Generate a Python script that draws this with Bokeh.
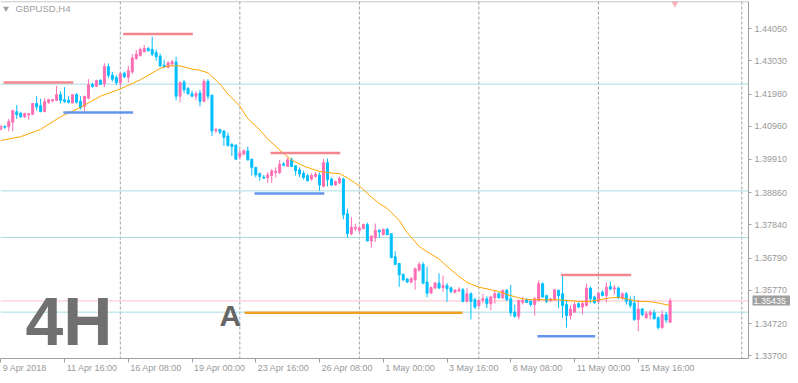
from bokeh.plotting import figure
from bokeh.models import (Range1d, FixedTicker, NumeralTickFormatter, Span, Label,
                          ColumnDataSource, LinearAxis)
from bokeh.embed import file_html
from bokeh.resources import INLINE

symbol_label = "GBPUSD,H4"

# H4 candles, bar index 0 = 9 Apr 2018 00:00
opens = [1.4086, 1.4095, 1.4094, 1.4109, 1.4142, 1.4137, 1.4126, 1.4132, 1.4134, 1.4168,
         1.4161, 1.4142, 1.4172, 1.4176, 1.4178, 1.4196, 1.4180, 1.4178, 1.4170, 1.4196,
         1.4175, 1.4159, 1.4185, 1.4229, 1.4222, 1.4241, 1.4230, 1.4285, 1.4257, 1.4250,
         1.4234, 1.4264, 1.4251, 1.4268, 1.4310, 1.4320, 1.4332, 1.4342, 1.4339, 1.4329,
         1.4318, 1.4289, 1.4283, 1.4293, 1.4299, 1.4191, 1.4236, 1.4216, 1.4199, 1.4191,
         1.4201, 1.4175, 1.4238, 1.4194, 1.4082, 1.4086, 1.4081, 1.4065, 1.4039, 1.4036,
         1.4000, 1.4008, 1.4018, 1.3992, 1.3966, 1.3946, 1.3935, 1.3933, 1.3940, 1.3950,
         1.3950, 1.3977, 1.3969, 1.3990, 1.3971, 1.3958, 1.3947, 1.3940, 1.3929, 1.3937,
         1.3942, 1.3906, 1.3981, 1.3929, 1.3910, 1.3917, 1.3929, 1.3819, 1.3756, 1.3772,
         1.3767, 1.3772, 1.3785, 1.3733, 1.3743, 1.3767, 1.3753, 1.3770, 1.3756, 1.3683,
         1.3662, 1.3627, 1.3613, 1.3603, 1.3610, 1.3641, 1.3659, 1.3603, 1.3568, 1.3584,
         1.3600, 1.3586, 1.3592, 1.3585, 1.3570, 1.3575, 1.3579, 1.3542, 1.3566, 1.3547,
         1.3529, 1.3546, 1.3550, 1.3535, 1.3553, 1.3566, 1.3553, 1.3577, 1.3550, 1.3508,
         1.3495, 1.3539, 1.3547, 1.3542, 1.3532, 1.3545, 1.3598, 1.3560, 1.3545, 1.3547,
         1.3577, 1.3566, 1.3532, 1.3497, 1.3508, 1.3535, 1.3524, 1.3529, 1.3584, 1.3556,
         1.3542, 1.3571, 1.3560, 1.3589, 1.3581, 1.3584, 1.3553, 1.3566, 1.3545, 1.3537,
         1.3485, 1.3518, 1.3490, 1.3500, 1.3506, 1.3490, 1.3459, 1.3500, 1.3476]
highs = [1.4100, 1.4099, 1.4119, 1.4146, 1.4163, 1.4142, 1.4139, 1.4138, 1.4168, 1.4191,
         1.4183, 1.4185, 1.4183, 1.4183, 1.4224, 1.4206, 1.4220, 1.4191, 1.4198, 1.4201,
         1.4191, 1.4191, 1.4245, 1.4234, 1.4243, 1.4245, 1.4295, 1.4295, 1.4268, 1.4258,
         1.4266, 1.4269, 1.4287, 1.4324, 1.4337, 1.4345, 1.4353, 1.4347, 1.4379, 1.4339,
         1.4326, 1.4306, 1.4301, 1.4306, 1.4316, 1.4238, 1.4243, 1.4220, 1.4209, 1.4206,
         1.4211, 1.4245, 1.4245, 1.4196, 1.4090, 1.4088, 1.4084, 1.4076, 1.4042, 1.4039,
         1.4023, 1.4023, 1.4032, 1.3992, 1.3966, 1.3950, 1.3942, 1.3950, 1.3960, 1.3966,
         1.3990, 1.3983, 1.3997, 1.3997, 1.3971, 1.3966, 1.3955, 1.3945, 1.3947, 1.3950,
         1.3950, 1.3992, 1.3994, 1.3934, 1.3924, 1.3937, 1.3934, 1.3835, 1.3809, 1.3788,
         1.3781, 1.3788, 1.3791, 1.3751, 1.3788, 1.3770, 1.3772, 1.3774, 1.3756, 1.3701,
         1.3662, 1.3631, 1.3615, 1.3617, 1.3649, 1.3666, 1.3666, 1.3652, 1.3589, 1.3603,
         1.3631, 1.3624, 1.3600, 1.3589, 1.3580, 1.3587, 1.3584, 1.3584, 1.3571, 1.3553,
         1.3547, 1.3566, 1.3558, 1.3560, 1.3577, 1.3571, 1.3579, 1.3581, 1.3594, 1.3532,
         1.3547, 1.3556, 1.3553, 1.3547, 1.3556, 1.3608, 1.3602, 1.3563, 1.3553, 1.3581,
         1.3579, 1.3621, 1.3547, 1.3529, 1.3539, 1.3539, 1.3542, 1.3598, 1.3589, 1.3560,
         1.3571, 1.3577, 1.3602, 1.3605, 1.3594, 1.3589, 1.3571, 1.3571, 1.3558, 1.3560,
         1.3547, 1.3521, 1.3511, 1.3514, 1.3516, 1.3495, 1.3514, 1.3508, 1.3553]
lows = [1.4082, 1.4088, 1.4080, 1.4080, 1.4119, 1.4122, 1.4122, 1.4117, 1.4132, 1.4146,
        1.4142, 1.4142, 1.4167, 1.4172, 1.4176, 1.4168, 1.4170, 1.4168, 1.4168, 1.4168,
        1.4149, 1.4143, 1.4182, 1.4218, 1.4220, 1.4227, 1.4220, 1.4248, 1.4238, 1.4227,
        1.4222, 1.4248, 1.4234, 1.4262, 1.4306, 1.4316, 1.4329, 1.4332, 1.4318, 1.4303,
        1.4283, 1.4280, 1.4279, 1.4287, 1.4178, 1.4172, 1.4201, 1.4196, 1.4188, 1.4178,
        1.4159, 1.4172, 1.4180, 1.4065, 1.4075, 1.4070, 1.4034, 1.4032, 1.4002, 1.3990,
        1.3992, 1.4004, 1.3987, 1.3940, 1.3934, 1.3924, 1.3929, 1.3917, 1.3917, 1.3934,
        1.3945, 1.3969, 1.3969, 1.3966, 1.3940, 1.3934, 1.3927, 1.3921, 1.3924, 1.3934,
        1.3892, 1.3903, 1.3906, 1.3908, 1.3908, 1.3913, 1.3802, 1.3743, 1.3751, 1.3764,
        1.3762, 1.3770, 1.3733, 1.3712, 1.3730, 1.3743, 1.3751, 1.3751, 1.3680, 1.3657,
        1.3588, 1.3607, 1.3600, 1.3600, 1.3579, 1.3636, 1.3596, 1.3555, 1.3568, 1.3582,
        1.3582, 1.3573, 1.3540, 1.3568, 1.3568, 1.3571, 1.3539, 1.3539, 1.3485, 1.3518,
        1.3524, 1.3537, 1.3521, 1.3514, 1.3535, 1.3552, 1.3550, 1.3544, 1.3495, 1.3490,
        1.3485, 1.3532, 1.3537, 1.3526, 1.3497, 1.3542, 1.3553, 1.3537, 1.3539, 1.3545,
        1.3521, 1.3490, 1.3459, 1.3485, 1.3506, 1.3521, 1.3500, 1.3526, 1.3537, 1.3535,
        1.3539, 1.3558, 1.3539, 1.3577, 1.3563, 1.3550, 1.3547, 1.3532, 1.3521, 1.3480,
        1.3448, 1.3495, 1.3487, 1.3485, 1.3485, 1.3453, 1.3456, 1.3474, 1.3474]
closes = [1.4097, 1.4093, 1.4111, 1.4146, 1.4133, 1.4126, 1.4136, 1.4136, 1.4168, 1.4157,
          1.4142, 1.4174, 1.4180, 1.4180, 1.4196, 1.4178, 1.4174, 1.4172, 1.4196, 1.4172,
          1.4154, 1.4191, 1.4227, 1.4222, 1.4241, 1.4229, 1.4285, 1.4257, 1.4245, 1.4234,
          1.4262, 1.4253, 1.4272, 1.4312, 1.4324, 1.4339, 1.4342, 1.4335, 1.4324, 1.4316,
          1.4287, 1.4285, 1.4297, 1.4300, 1.4191, 1.4234, 1.4211, 1.4199, 1.4191, 1.4199,
          1.4175, 1.4238, 1.4191, 1.4081, 1.4086, 1.4077, 1.4061, 1.4035, 1.4032, 1.3992,
          1.4011, 1.4018, 1.3990, 1.3966, 1.3942, 1.3937, 1.3932, 1.3942, 1.3955, 1.3954,
          1.3976, 1.3973, 1.3990, 1.3969, 1.3955, 1.3945, 1.3934, 1.3924, 1.3940, 1.3944,
          1.3910, 1.3981, 1.3927, 1.3910, 1.3921, 1.3931, 1.3816, 1.3756, 1.3777, 1.3776,
          1.3774, 1.3785, 1.3733, 1.3749, 1.3767, 1.3762, 1.3770, 1.3753, 1.3680, 1.3659,
          1.3626, 1.3610, 1.3603, 1.3615, 1.3645, 1.3659, 1.3600, 1.3568, 1.3586, 1.3600,
          1.3584, 1.3592, 1.3582, 1.3573, 1.3578, 1.3579, 1.3542, 1.3566, 1.3542, 1.3524,
          1.3545, 1.3550, 1.3535, 1.3556, 1.3566, 1.3553, 1.3577, 1.3547, 1.3506, 1.3495,
          1.3545, 1.3545, 1.3539, 1.3532, 1.3550, 1.3598, 1.3556, 1.3542, 1.3550, 1.3579,
          1.3560, 1.3529, 1.3497, 1.3518, 1.3532, 1.3524, 1.3535, 1.3584, 1.3550, 1.3537,
          1.3568, 1.3560, 1.3587, 1.3581, 1.3585, 1.3553, 1.3566, 1.3542, 1.3529, 1.3485,
          1.3518, 1.3500, 1.3503, 1.3508, 1.3487, 1.3459, 1.3500, 1.3483, 1.35435]

# moving average at sample bars
ma_idx = [0, 5, 10, 15, 20, 25, 30, 35, 40, 42, 45, 48, 50, 52, 55, 57, 60, 62, 65, 67,
          71, 73, 76, 80, 83, 85, 87, 90, 93, 95, 97, 100, 102, 105, 107, 110, 113, 115,
          117, 120, 123, 125, 127, 130, 132, 137, 140, 145, 148, 150, 153, 155, 157, 160,
          163, 165, 168]
ma_val = [1.4051, 1.4063, 1.4086, 1.4126, 1.4156, 1.4191, 1.4214, 1.4243, 1.4279, 1.4287,
          1.4287, 1.4277, 1.4273, 1.4265, 1.4230, 1.4198, 1.4159, 1.4120, 1.4085, 1.4055,
          1.4010, 1.3989, 1.3970, 1.3953, 1.3948, 1.3946, 1.3933, 1.3907, 1.3872, 1.3852,
          1.3836, 1.3798, 1.3760, 1.3716, 1.3699, 1.3676, 1.3642, 1.3621, 1.3602, 1.3587,
          1.3579, 1.3573, 1.3564, 1.3553, 1.3548, 1.3547, 1.3547, 1.3542, 1.3542, 1.3547,
          1.3553, 1.3555, 1.3550, 1.3542, 1.3541, 1.3537, 1.3529]

date_tick_idx = [0, 16, 32, 48, 64, 80, 96, 112, 128, 144, 160]
date_tick_labels = ["9 Apr 2018", "11 Apr 16:00", "16 Apr 08:00", "19 Apr 00:00",
                    "23 Apr 16:00", "26 Apr 08:00", "1 May 00:00", "3 May 16:00",
                    "8 May 08:00", "11 May 00:00", "15 May 16:00"]
price_ticks = [1.33700, 1.34720, 1.35770, 1.36790, 1.37840, 1.38860, 1.39910,
               1.40960, 1.41980, 1.43030, 1.44050]
last_price = 1.35435

cyan_levels = [1.42293, 1.38915, 1.37441, 1.35079]
res_levels = [1.42344, 1.43881, 1.40116, 1.36258]
res_start = [0.7, 30.7, 67.7, 140.6]
res_end = [18.2, 48.2, 85.2, 158.2]
sup_levels = [1.41393, 1.38830, 1.34313]
sup_start = [15.7, 63.7, 134.7]
sup_end = [33.2, 81.2, 149.2]
orange_level = [1.35060]
orange_start = [61.2]
orange_end = [115.9]
vgrid_idx = [30, 60, 90, 120, 150, 186]

BULL = "#FF6EB4"
BEAR = "#00BFFF"
GREY = "#a0a0a0"
TXT = "#999999"
FONT = "Liberation Sans"

X0, X1 = -0.075, 187.675
Y0, Y1 = 1.33613, 1.44907
PX_PER_BAR = 4.0

p = figure(width=790, height=375, x_range=Range1d(X0, X1), y_range=Range1d(Y0, Y1),
           output_backend="svg", toolbar_location=None, y_axis_location="right",
           min_border_left=0, min_border_top=1, min_border_right=39, min_border_bottom=14)
p.background_fill_color = "white"
p.border_fill_color = "white"
p.outline_line_color = None
p.xgrid.visible = False
p.ygrid.visible = False

for k in vgrid_idx:
    p.add_layout(Span(location=k, dimension="height", line_color=GREY, line_width=1,
                      line_dash="3 2", level="underlay"))
for lv in cyan_levels:
    p.add_layout(Span(location=lv, dimension="width", line_color="#A8DDE4", line_width=1,
                      level="underlay"))
p.add_layout(Span(location=last_price, dimension="width", line_color="#FFC0CB",
                  line_width=1, level="underlay"))
p.add_layout(Span(location=Y1 - 0.00005, dimension="width", line_color=GREY, line_width=1))

idx = list(range(len(opens)))
colors = [BULL if c >= o else BEAR for o, c in zip(opens, closes)]
src = ColumnDataSource(dict(x=idx, o=opens, h=highs, l=lows, c=closes,
                            top=[max(o, c) for o, c in zip(opens, closes)],
                            bot=[min(o, c) for o, c in zip(opens, closes)],
                            col=colors))
p.segment(x0="x", y0="l", x1="x", y1="h", line_color="col", line_width=1, source=src)
p.vbar(x="x", width=0.5, top="top", bottom="bot", fill_color="col", line_color="col",
       line_width=1, source=src)

p.line(ma_idx, ma_val, line_color="#FFA500", line_width=1)

p.segment(x0=res_start, y0=res_levels, x1=res_end, y1=res_levels,
          line_color="#F4868F", line_width=2.5)
p.segment(x0=sup_start, y0=sup_levels, x1=sup_end, y1=sup_levels,
          line_color="#6495ED", line_width=2.5)
p.segment(x0=orange_start, y0=orange_level, x1=orange_end, y1=orange_level,
          line_color="#F0A020", line_width=2.5)

# x axis: tick marks at the bars (minor ticks), labels left-aligned after them (MT4 style)
CHAR_W = {"0": 5.0, "1": 5.0, "2": 5.0, "3": 5.0, "4": 5.0, "5": 5.0, "6": 5.0, "7": 5.0,
          "8": 5.0, "9": 5.0, " ": 2.5, ":": 2.5, "A": 6.0, "p": 5.0, "r": 3.0, "M": 7.5,
          "a": 5.0, "y": 4.5}
centers = []
overrides = {}
for k, lab in zip(date_tick_idx, date_tick_labels):
    w = sum(CHAR_W.get(ch, 5.0) for ch in lab)
    cx = round(k + (2.0 + w / 2.0) / PX_PER_BAR, 3)
    centers.append(cx)
    overrides[cx] = lab
xa = p.xaxis[0]
xa.ticker = FixedTicker(ticks=centers, minor_ticks=date_tick_idx)
xa.major_label_overrides = overrides
xa.major_tick_line_color = None
xa.major_tick_out = 4
xa.major_tick_in = 0
xa.minor_tick_out = 4
xa.minor_tick_in = 0
xa.minor_tick_line_color = GREY
xa.axis_line_color = GREY
xa.major_label_standoff = 0
xa.major_label_text_font = FONT
xa.major_label_text_font_size = "9px"
xa.major_label_text_color = TXT

ya = p.yaxis[0]
ya.ticker = FixedTicker(ticks=price_ticks)
ya.formatter = NumeralTickFormatter(format="0.00000")
ya.major_tick_out = 3
ya.major_tick_in = 0
ya.minor_tick_line_color = None
ya.axis_line_color = GREY
ya.major_tick_line_color = GREY
ya.major_label_text_font = FONT
ya.major_label_text_font_size = "9px"
ya.major_label_text_color = TXT
ya.major_label_standoff = 3

# current price box: a second right axis whose single tick is drawn as a thick grey bar
pa = LinearAxis(ticker=FixedTicker(ticks=[last_price]),
                formatter=NumeralTickFormatter(format="0.00000"))
pa.axis_line_color = None
pa.minor_tick_line_color = None
pa.major_tick_in = 38
pa.major_tick_out = 0
pa.major_tick_line_width = 10
pa.major_tick_line_color = GREY
pa.major_label_standoff = -37
pa.major_label_text_font = FONT
pa.major_label_text_font_size = "9px"
pa.major_label_text_color = "white"
p.add_layout(pa, "right")

p.add_layout(Label(x=3.7, y=1.44687, text=symbol_label, text_align="left",
                   text_baseline="middle", text_font=FONT,
                   text_font_size="9.5px", text_color=GREY))
p.scatter(x=[1.3], y=[1.44687], marker="inverted_triangle", size=6, fill_color=GREY,
          line_color=None)
p.scatter(x=[169.2], y=[1.44890], marker="inverted_triangle", size=10,
          fill_color="#FFB6C1", line_color=None)

p.add_layout(Label(x=6.2, y=1.34806, text="4H", text_align="left",
                   text_baseline="middle", text_font=FONT,
                   text_font_style="bold", text_font_size="68px", text_color="#707070"))
p.add_layout(Label(x=54.9, y=1.34962, text="A", text_align="left",
                   text_baseline="middle", text_font=FONT,
                   text_font_style="bold", text_font_size="30px", text_color="#666666"))

open("out.html", "w").write(file_html(p, INLINE))
